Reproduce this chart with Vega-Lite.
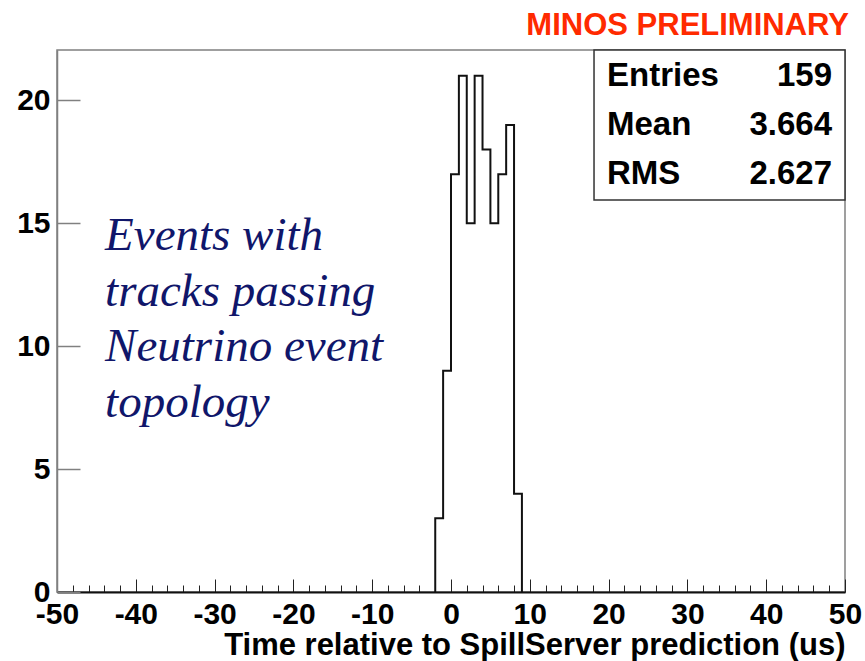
{
  "$schema": "https://vega.github.io/schema/vega-lite/v6.json",
  "width": 788,
  "height": 542,
  "autosize": {"type": "none"},
  "padding": {"left": 57, "top": 50, "right": 20, "bottom": 69},
  "background": "white",
  "config": {
    "view": {"stroke": "#808080", "strokeWidth": 1.5},
    "font": "Liberation Sans"
  },
  "datasets": {
    "hist": [
      {"k": 0, "t": -2, "n": 0},
      {"k": 1, "t": -1, "n": 3},
      {"k": 2, "t": 0, "n": 9},
      {"k": 3, "t": 1, "n": 17},
      {"k": 4, "t": 2, "n": 21},
      {"k": 5, "t": 3, "n": 15},
      {"k": 6, "t": 4, "n": 21},
      {"k": 7, "t": 5, "n": 18},
      {"k": 8, "t": 6, "n": 15},
      {"k": 9, "t": 7, "n": 17},
      {"k": 10, "t": 8, "n": 19},
      {"k": 11, "t": 9, "n": 4},
      {"k": 12, "t": 9, "n": 0}
    ],
    "stats": [
      {"names": "Entries\nMean\nRMS", "values": "159\n3.664\n2.627"}
    ],
    "note": [
      {"label": "Events with\ntracks passing\nNeutrino event\ntopology"}
    ],
    "banner": [
      {"label": "MINOS PRELIMINARY"}
    ]
  },
  "layer": [
    {
      "data": {"name": "hist"},
      "mark": {"type": "line", "interpolate": "step-before", "color": "#111111", "strokeWidth": 2},
      "encoding": {
        "x": {
          "field": "t", "type": "quantitative",
          "scale": {"domain": [-50, 50], "nice": false, "zero": false},
          "axis": {
            "values": [-50,-48,-46,-44,-42,-40,-38,-36,-34,-32,-30,-28,-26,-24,-22,-20,-18,-16,-14,-12,-10,-8,-6,-4,-2,0,2,4,6,8,10,12,14,16,18,20,22,24,26,28,30,32,34,36,38,40,42,44,46,48,50],
            "tickCount": 80,
            "labelExpr": "datum.value % 10 === 0 ? replace(datum.label, '−', '-') : ''",
            "tickSize": {"condition": {"test": "datum.value % 10 === 0", "value": -13}, "value": -7},
            "tickColor": "#222222",
            "tickWidth": 1,
            "domainColor": "#111111",
            "domainWidth": 2,
            "grid": false,
            "labelFont": "Liberation Sans",
            "labelFontSize": 30,
            "labelFontWeight": "bold",
            "labelColor": "#000000",
            "labelPadding": 20,
            "labelBaseline": "top",
            "labelFlush": false,
            "labelOverlap": false,
            "title": "Time relative to SpillServer prediction (us)",
            "titleFont": "Liberation Sans",
            "titleFontSize": 31,
            "titleFontWeight": "bold",
            "titleColor": "#000000",
            "titleAnchor": "end",
            "titleAlign": "right",
            "titlePadding": -5
          }
        },
        "y": {
          "field": "n", "type": "quantitative",
          "scale": {"domain": [0, 22.05], "nice": false},
          "axis": {
            "values": [0, 5, 10, 15, 20],
            "tickSize": -23,
            "tickColor": "#808080",
            "tickWidth": 1.5,
            "domainColor": "#808080",
            "domainWidth": 1.5,
            "grid": false,
            "labelFont": "Liberation Sans",
            "labelFontSize": 30,
            "labelFontWeight": "bold",
            "labelColor": "#000000",
            "labelPadding": 30,
            "labelFlush": false,
            "title": null
          }
        },
        "order": {"field": "k", "type": "quantitative"}
      }
    },
    {
      "data": {"name": "stats"},
      "mark": {"type": "rect", "fill": "white", "stroke": "#333333", "strokeWidth": 1.5},
      "encoding": {
        "x": {"datum": 18.15, "type": "quantitative"},
        "x2": {"datum": 50},
        "y": {"datum": 15.95, "type": "quantitative"},
        "y2": {"datum": 22.05}
      }
    },
    {
      "data": {"name": "stats"},
      "mark": {"type": "text", "align": "left", "baseline": "alphabetic", "font": "Liberation Sans", "fontSize": 33, "fontWeight": "bold", "color": "#000000", "lineHeight": 49, "lineBreak": "\n"},
      "encoding": {
        "x": {"datum": 19.8, "type": "quantitative"},
        "y": {"datum": 20.59, "type": "quantitative"},
        "text": {"field": "names"}
      }
    },
    {
      "data": {"name": "stats"},
      "mark": {"type": "text", "align": "right", "baseline": "alphabetic", "font": "Liberation Sans", "fontSize": 33, "fontWeight": "bold", "color": "#000000", "lineHeight": 49, "lineBreak": "\n"},
      "encoding": {
        "x": {"datum": 48.35, "type": "quantitative"},
        "y": {"datum": 20.59, "type": "quantitative"},
        "text": {"field": "values"}
      }
    },
    {
      "data": {"name": "note"},
      "mark": {"type": "text", "align": "left", "baseline": "alphabetic", "font": "Liberation Serif", "fontSize": 47, "fontStyle": "italic", "color": "#10166a", "lineHeight": 55.5, "lineBreak": "\n"},
      "encoding": {
        "x": {"datum": -43.9, "type": "quantitative"},
        "y": {"datum": 13.91, "type": "quantitative"},
        "text": {"field": "label"}
      }
    },
    {
      "data": {"name": "banner"},
      "mark": {"type": "text", "align": "right", "baseline": "alphabetic", "font": "Liberation Sans", "fontSize": 31, "fontWeight": "bold", "color": "#ff2a00", "clip": false, "dx": 4},
      "encoding": {
        "x": {"datum": 50, "type": "quantitative"},
        "y": {"datum": 22.66, "type": "quantitative"},
        "text": {"field": "label"}
      }
    }
  ]
}
